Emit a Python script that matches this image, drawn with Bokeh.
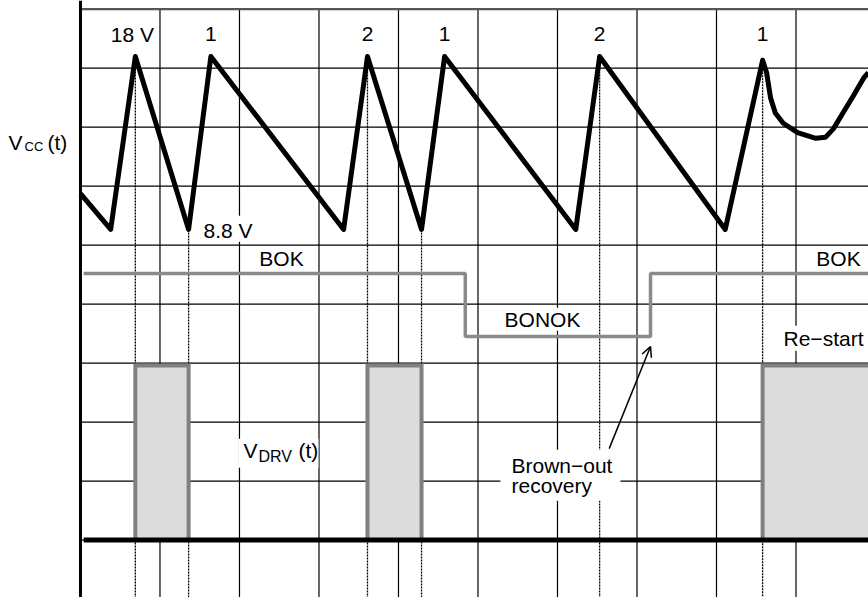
from bokeh.plotting import figure
from bokeh.models import Range1d, Span, Label, Arrow, OpenHead
from bokeh.embed import file_html
from bokeh.resources import INLINE

# ---- data (time in grid divisions, Vcc in volts, logic traces in grid units) ----
vcc_t = [0.0, 0.38, 0.69, 1.36, 1.64, 3.31, 3.61, 4.29, 4.58, 6.23, 6.53, 8.11, 8.58,
         8.63, 8.68, 8.74, 8.84, 9.02, 9.25, 9.37, 9.47, 9.59, 9.72, 9.85, 9.91]
vcc_v = [10.7, 8.8, 18.0, 8.8, 18.0, 8.8, 18.0, 8.8, 18.0, 8.8, 18.0, 8.8, 17.8,
         17.15, 15.8, 15.0, 14.45, 13.95, 13.65, 13.7, 14.15, 15.0, 15.9, 16.85, 17.15]

peak_t = [0.69, 1.64, 3.61, 4.58, 6.53, 8.58]
peak_labels = ["18 V", "1", "2", "1", "2", "1"]

marker_t = [0.69, 1.36, 3.61, 4.29, 6.53, 8.58]
marker_v = [18.0, 8.8, 18.0, 8.8, 18.0, 17.8]

bok_t = [0.04, 4.84, 4.84, 7.17, 7.17, 10.0]
bok_y = [5.52, 5.52, 4.45, 4.45, 5.52, 5.52]

drv_on = [0.69, 3.61, 8.58]
drv_off = [1.36, 4.29, 10.5]
drv_high = 3.96
drv_low = 1.0

grid_x = [1, 2, 3, 4, 5, 6, 7, 8, 9]
grid_y = [1, 2, 3, 4, 5, 6, 7, 8, 9]
grid_top = 10

FONT = "Liberation Sans"
FS = 21

x_range = Range1d(-1.006, 9.912)
y_range = Range1d(0.027, 10.146)
vcc_range = Range1d(-10.78, 20.98)

p = figure(width=868, height=597, output_backend="svg", toolbar_location=None,
           x_range=x_range, y_range=y_range,
           x_axis_location=None, y_axis_location=None,
           min_border_left=0, min_border_right=0, min_border_top=0, min_border_bottom=0)
p.xgrid.visible = False
p.ygrid.visible = False
p.outline_line_color = None
p.extra_y_ranges = {"vcc": vcc_range}

# grid
n = len(grid_x)
p.segment(x0=grid_x, x1=grid_x, y0=[y_range.start] * n, y1=[grid_top] * n,
          line_color="black", line_width=1.2)
m = len(grid_y)
p.segment(x0=[0] * m, x1=[x_range.end] * m, y0=grid_y, y1=grid_y,
          line_color="black", line_width=1.2)
p.segment(x0=[0], x1=[x_range.end], y0=[grid_top], y1=[grid_top],
          line_color="#555555", line_width=2.2)

# dotted markers
p.segment(x0=marker_t, y0=marker_v, x1=marker_t, y1=[vcc_range.start] * len(marker_t),
          y_range_name="vcc", line_color="black", line_width=1.3, line_dash="2 1")

# DRV pulses
p.quad(left=drv_on, right=drv_off, bottom=drv_low, top=drv_high,
       fill_color="#dcdcdc", line_color="#808080", line_width=4, line_join="miter")
p.line(x=[bok_t[0], bok_t[-1]], y=[drv_low, drv_low], line_color="black", line_width=5)

# BOK signal
p.line(x=bok_t, y=bok_y, line_color="#8a8a8a", line_width=3.5)

# Vcc
p.line(x=vcc_t, y=vcc_v, y_range_name="vcc", line_color="black", line_width=5,
       line_join="round")

# vertical axis line
p.add_layout(Span(location=0, dimension="height", line_color="black", line_width=3))

K = 0.39  # baseline correction (fraction of font size)


def lab(x, y, text, align="left", size=FS, pad=None, x_offset=0):
    pt = pb = pl = pr = 0
    kw = dict(x=x, y=y, text=text, text_font=FONT, text_font_size=f"{size}px",
              text_align=align, text_baseline="alphabetic", text_color="black")
    if pad is not None:
        if isinstance(pad, dict):
            pt, pb, pl, pr = pad["top"], pad["bottom"], pad["left"], pad["right"]
        else:
            pt = pb = pl = pr = pad
        kw.update(background_fill_color="white", padding=pad)
    kw["y_offset"] = K * size + (pt - pb) / 2
    if align == "left":
        kw["x_offset"] = x_offset - pl
    else:
        kw["x_offset"] = x_offset - (pl - pr) / 2
    p.add_layout(Label(**kw))


for i, (t, s) in enumerate(zip(peak_t, peak_labels)):
    lab(t, 9.434, s, align="center", x_offset=-3 if i == 0 else 0)

lab(1.547, 6.112, "8.8 V", pad=dict(left=3, right=3, top=3, bottom=0))
lab(2.528, 5.637, "BOK", align="center")
lab(5.811, 4.603, "BONOK", align="center", pad=0)
lab(9.535, 5.637, "BOK", align="center")
lab(9.346, 4.281, "Re\u2212start", align="center", pad=1)

# Vcc (t)
lab(-0.906, 7.603, "V")
lab(-0.704, 7.586, "CC", size=13)
lab(-0.415, 7.603, "(t)")

# V_DRV (t)
lab(2.050, 2.383, "V", pad=dict(left=5, right=61, top=0, bottom=6))
lab(2.239, 2.315, "DRV", size=16)
lab(2.742, 2.383, "(t)")

# Brown-out recovery
lab(5.421, 2.129, "Brown\u2212out", pad=dict(left=11, right=8, top=4, bottom=24))
lab(5.421, 1.790, "recovery")

p.add_layout(Arrow(end=OpenHead(size=10, line_width=1.5, line_color="black"),
                   x_start=6.65, y_start=2.55, x_end=7.17, y_end=4.28,
                   line_width=1.5, line_color="black"))

open("out.html", "w").write(file_html(p, INLINE))
